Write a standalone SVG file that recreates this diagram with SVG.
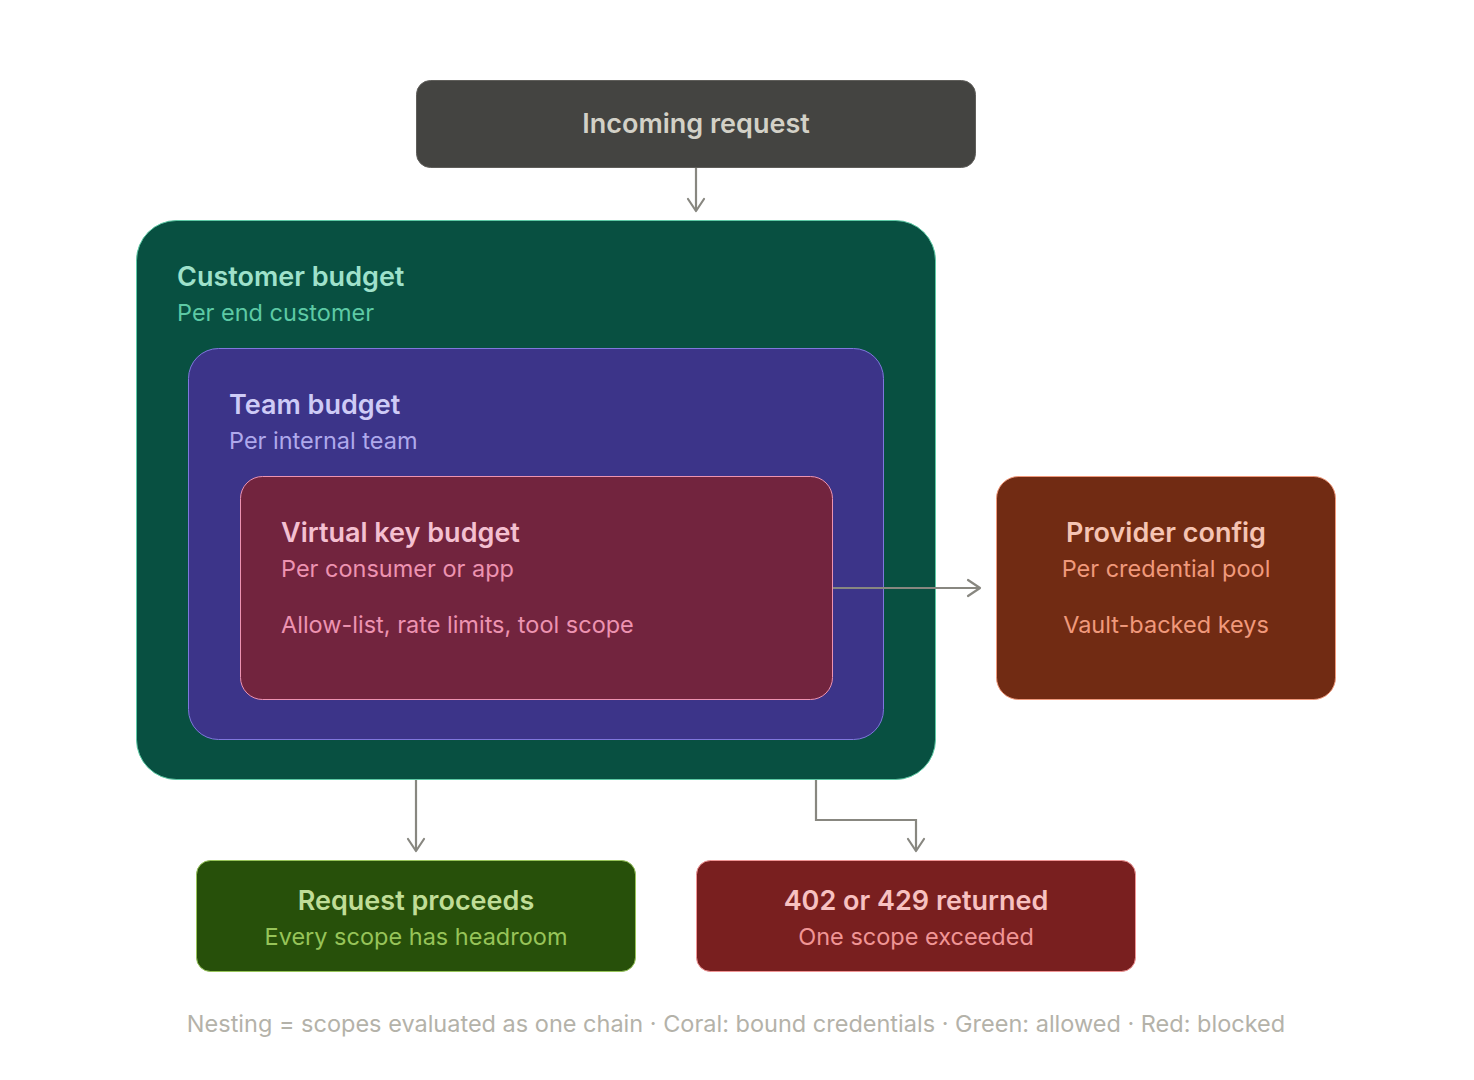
<svg xmlns="http://www.w3.org/2000/svg" width="1474" height="1080" viewBox="0 0 1474 1080">
<defs>
<marker id="arr" viewBox="0 0 20 20" refX="16" refY="10" markerWidth="20" markerHeight="20" markerUnits="userSpaceOnUse" orient="auto">
<path d="M4 2 L16 10 L4 18" fill="none" stroke="#888780" stroke-width="2.2" stroke-linecap="round" stroke-linejoin="round"/>
</marker>
<style>
text{font-family:Inter,"Noto Sans","Liberation Sans",sans-serif}
.t{font-size:27px;font-weight:600}
.s{font-size:23.5px;font-weight:400}
.c{text-anchor:middle}
.ln{fill:none;stroke:#888780;stroke-width:2.2}
</style>
</defs>
<rect width="1474" height="1080" fill="#ffffff"/>
<g id="incoming">
<rect x="416.5" y="80.5" width="559" height="87" rx="14" fill="#444441" stroke="#5f5e5a"/>
<text class="t c" x="696" y="133" fill="#d3d1c7">Incoming request</text>
</g>
<g id="customer">
<rect x="136.5" y="220.5" width="799" height="559" rx="40" fill="#085041" stroke="#5dcaa5"/>
<text class="t" x="177" y="286" fill="#9fe1cb">Customer budget</text>
<text class="s" x="177" y="321" fill="#5dcaa5">Per end customer</text>
</g>
<g id="team">
<rect x="188.5" y="348.5" width="695" height="391" rx="30" fill="#3c3489" stroke="#7f77dd"/>
<text class="t" x="229" y="414" fill="#cecbf6">Team budget</text>
<text class="s" x="229" y="449" fill="#afa9ec">Per internal team</text>
</g>
<g id="vkey">
<rect x="240.5" y="476.5" width="592" height="223" rx="22" fill="#72243e" stroke="#ed93b1"/>
<text class="t" x="281" y="542" fill="#f4c0d1">Virtual key budget</text>
<text class="s" x="281" y="577" fill="#ed93b1">Per consumer or app</text>
<text class="s" x="281" y="633" fill="#ed93b1">Allow-list, rate limits, tool scope</text>
</g>
<g id="provider">
<rect x="996.5" y="476.5" width="339" height="223" rx="22" fill="#712b13" stroke="#f0997b"/>
<text class="t c" x="1166" y="542" fill="#f5c4b3">Provider config</text>
<text class="s c" x="1166" y="577" fill="#f0997b">Per credential pool</text>
<text class="s c" x="1166" y="633" fill="#f0997b">Vault-backed keys</text>
</g>
<g id="proceeds">
<rect x="196.5" y="860.5" width="439" height="111" rx="14" fill="#27500a" stroke="#97c459"/>
<text class="t c" x="416" y="910" fill="#c0dd97">Request proceeds</text>
<text class="s c" x="416" y="945" fill="#97c459">Every scope has headroom</text>
</g>
<g id="blocked">
<rect x="696.5" y="860.5" width="439" height="111" rx="14" fill="#791f1f" stroke="#f09595"/>
<text class="t c" x="916" y="910" fill="#f7c1c1">402 or 429 returned</text>
<text class="s c" x="916" y="945" fill="#f09595">One scope exceeded</text>
</g>
<g id="connectors">
<path class="ln" d="M696 168 L696 211" marker-end="url(#arr)"/>
<path class="ln" d="M833 588 L980 588" marker-end="url(#arr)"/>
<path class="ln" d="M416 780 L416 851" marker-end="url(#arr)"/>
<path class="ln" d="M816 780 L816 820 L916 820 L916 851" marker-end="url(#arr)"/>
</g>
<text class="s c" x="736" y="1032" fill="#b4b2a9">Nesting = scopes evaluated as one chain · Coral: bound credentials · Green: allowed · Red: blocked</text>
</svg>
